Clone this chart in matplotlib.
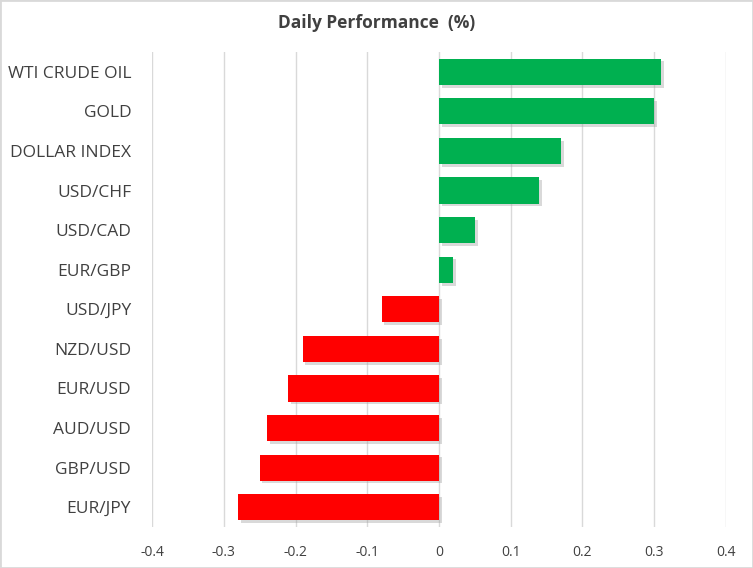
import matplotlib.pyplot as plt
import matplotlib.patheffects as pe

categories = ['WTI CRUDE OIL', 'GOLD', 'DOLLAR INDEX', 'USD/CHF', 'USD/CAD', 'EUR/GBP',
              'USD/JPY', 'NZD/USD', 'EUR/USD', 'AUD/USD', 'GBP/USD', 'EUR/JPY']
values = [0.31, 0.30, 0.17, 0.14, 0.05, 0.02, -0.08, -0.19, -0.21, -0.24, -0.25, -0.28]
xticks = [-0.4, -0.3, -0.2, -0.1, 0, 0.1, 0.2, 0.3, 0.4]
xtick_labels = ['-0.4', '-0.3', '-0.2', '-0.1', '0', '0.1', '0.2', '0.3', '0.4']

plt.rcParams['font.family'] = ['Open Sans', 'DejaVu Sans']

fig = plt.figure(figsize=(7.53, 5.68), dpi=100)
ax = fig.add_axes([0.2019, 0.0722, 0.7622, 0.8363])

colors = ['#00B050' if v >= 0 else '#FF0000' for v in values]
pos = list(range(len(categories)))[::-1]
bars = ax.barh(pos, values, height=0.66, color=colors, zorder=3)
for b in bars:
    b.set_path_effects([pe.SimplePatchShadow(offset=(2, -2), shadow_rgbFace='#A0A0A0', alpha=0.4),
                        pe.Normal()])

ax.set_xlim(-0.4, 0.4)
ax.set_ylim(-0.5, len(categories) - 0.5)
ax.set_xticks(xticks)
ax.set_xticklabels(xtick_labels, fontsize=10, color='#404040')
ax.set_yticks(pos)
ax.set_yticklabels(categories, fontsize=12.5, color='#404040')
ax.tick_params(axis='both', length=0)
ax.tick_params(axis='x', pad=13)
ax.tick_params(axis='y', pad=15)
ax.grid(axis='x', color='#D9D9D9', linewidth=1, zorder=0)
for s in ax.spines.values():
    s.set_visible(False)

fig.text(0.5, 0.96, 'Daily Performance  (%)', ha='center', va='center',
         fontsize=12.5, fontweight='bold', color='#404040')

fig.patches.append(plt.Rectangle((0, 0), 1, 1, transform=fig.transFigure, fill=False,
                                 edgecolor='#D9D9D9', linewidth=2))

fig.savefig('out.png', dpi=100)
